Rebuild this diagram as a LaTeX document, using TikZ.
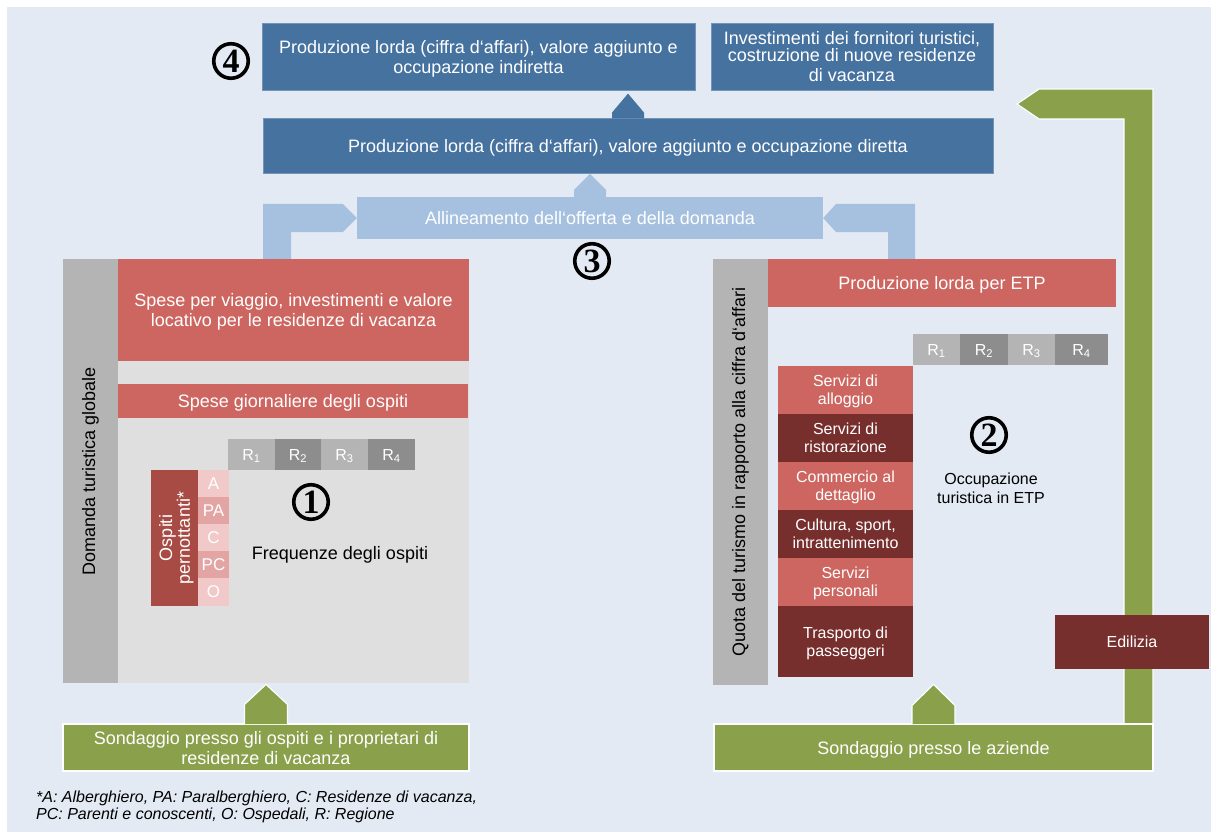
\documentclass[tikz,border=0pt]{standalone}
\usepackage{fontspec}
\setmainfont{Liberation Sans}
\newfontfamily\numfont{Liberation Serif}
\usetikzlibrary{calc}

\definecolor{bgblue}{RGB}{227,234,244}
\definecolor{darkblue}{RGB}{70,114,160}
\definecolor{paleblue}{RGB}{166,193,223}
\definecolor{salmon}{RGB}{205,102,96}
\definecolor{maroon}{RGB}{119,47,46}
\definecolor{brick}{RGB}{168,75,69}
\definecolor{pinklight}{RGB}{242,201,201}
\definecolor{pinkmid}{RGB}{227,165,164}
\definecolor{bargray}{RGB}{180,180,180}
\definecolor{panelgray}{RGB}{223,223,223}
\definecolor{rdark}{RGB}{141,141,141}
\definecolor{olive}{RGB}{138,160,75}

% house-shaped arrow tip standing on an anchor: (half width:shoulder:apex)
\def\house[#1](#2)(#3:#4:#5){\path[#1] ($(#2)+(-#3,0.8)$) -- ($(#2)+(-#3,-#4)$) -- ($(#2)+(0,-#5)$) -- ($(#2)+(#3,-#4)$) -- ($(#2)+(#3,0.8)$);}

\tikzset{
	txt/.style={inner sep=0pt, align=center, text=white, text depth=0pt, font=\fontsize{18}{20}\selectfont},
	bluebox/.style={txt, fill=darkblue, draw=darkblue!75!white, line width=0.8pt},
	palebox/.style={txt, fill=paleblue},
	redbox/.style={txt, fill=salmon},
	sector/.style={txt, minimum width=135, font=\fontsize{16}{18}\selectfont},
	olivebox/.style={txt, fill=olive, draw=white, line width=1.2pt},
	sidebar/.style={inner sep=0pt, fill=bargray, rotate=90, font=\fontsize{18}{20}\selectfont},
	regbox/.style={txt, minimum height=31, font=\fontsize{16}{18}\selectfont},
	lodging/.style={txt, minimum width=31, minimum height=27, font=\fontsize{17}{18}\selectfont},
	circnum/.style={circle, draw=black, line width=3.6pt, minimum size=34.5pt, inner sep=0pt, font=\numfont\bfseries\fontsize{34}{34}\selectfont},
	plain/.style={inner sep=0pt, align=center, text=black, text depth=0pt}
}

\begin{document}
\begin{tikzpicture}[x=1pt, y=-1pt]
	%%%%% START %%%%%
	\useasboundingbox (0,0) rectangle (1211,832);
	\fill[white] (0,0) rectangle (1211,832);
	\fill[bgblue] (7,7) rectangle (1211,832);
	
	% supply and demand
	\node[palebox, minimum width=466, minimum height=42] (align) at (590,218) {Allineamento dell‘offerta e della domanda};
	\fill[paleblue] (263,259) -- (263,204) -- (343,204) -- (align.west) -- (343,232) -- (291,232) -- (291,259) -- cycle;
	\fill[paleblue] (915,259) -- (915,204) -- (836,204) -- (align.east) -- (836,232) -- (888,232) -- (888,259) -- cycle;
	\house[fill=paleblue](align.north)(16:7:23)
	
	\node[bluebox, minimum width=730, minimum height=55] (direct) at (628,145.5) {Produzione lorda (ciffra d‘affari), valore aggiunto e occupazione diretta};
	\house[fill=darkblue](direct.north)(16:5:24)
	
	\node[bluebox, minimum width=433, minimum height=67] (indirect) at (478.5,56.5) {Produzione lorda (ciffra d‘affari), valore aggiunto e\\occupazione indiretta};
	\node[bluebox, minimum width=282, minimum height=67, font=\fontsize{18}{17}\selectfont] (invest) at (852,56.5) {Investimenti dei fornitori turistici,\\costruzione di nuove residenze\\[3pt]di vacanza};
	
	\node[circnum] (four) at (231,61) {4};
	\node[circnum] (three) at (592,261) {3};
	
	% demand side
	\node[sidebar, minimum width=424, minimum height=55] (demand) at (90.5,471) {Domanda turistica globale};
	\node[fill=panelgray, minimum width=351, minimum height=424, inner sep=0pt] (demandpanel) at (293.5,471) {};
	\node[redbox, minimum width=351, minimum height=102] (spend) at (293.5,310) {Spese per viaggio, investimenti e valore\\locativo per le residenze di vacanza};
	\node[redbox, minimum width=350, minimum height=34] (daily) at (293,401) {Spese giornaliere degli ospiti};
	
	\node[regbox, fill=bargray, minimum width=47] (rl1) at (251.5,454.5) {R\textsubscript{1}};
	\node[regbox, fill=rdark, minimum width=46] (rl2) at (298,454.5) {R\textsubscript{2}};
	\node[regbox, fill=bargray, minimum width=47] (rl3) at (344.5,454.5) {R\textsubscript{3}};
	\node[regbox, fill=rdark, minimum width=47] (rl4) at (391.5,454.5) {R\textsubscript{4}};
	
	\node[txt, fill=brick, rotate=90, minimum width=136, minimum height=47, font=\fontsize{18}{15}\selectfont] (guests) at (174.5,538) {Ospiti\\pernottanti*};
	\node[lodging, fill=pinklight] (hotel) at (213.5,483.5) {A};
	\node[lodging, fill=pinkmid] (para) at (213.5,510.5) {PA};
	\node[lodging, fill=pinklight] (holiday) at (213.5,537.5) {C};
	\node[lodging, fill=pinkmid] (friends) at (213.5,564.5) {PC};
	\node[lodging, fill=pinklight, minimum height=28] (hospital) at (213.5,592) {O};
	
	\node[circnum] (one) at (311,502) {1};
	\node[plain, font=\fontsize{18}{20}\selectfont] (nights) at (340,553) {Frequenze degli ospiti};
	
	\node[olivebox, minimum width=406, minimum height=47] (survey) at (266,747.5) {Sondaggio presso gli ospiti e i proprietari di\\residenze di vacanza};
	\house[fill=olive, draw=white, line width=1.2pt](survey.north)(21.5:19:39)
	
	\node[plain, anchor=west, align=left, font=\itshape\fontsize{16}{17}\selectfont] (note) at (36,805.5) {*A: Alberghiero, PA: Paralberghiero, C: Residenze di vacanza,\\PC: Parenti e conoscenti, O: Ospedali, R: Regione};
	
	% supply side
	\node[sidebar, minimum width=426, minimum height=55] (share) at (740.5,472) {Quota del turismo in rapporto alla ciffra d‘affari};
	\node[redbox, minimum width=348, minimum height=48] (etp) at (942,283) {Produzione lorda per ETP};
	
	\node[regbox, fill=bargray, minimum width=47] (rr1) at (936.5,349.5) {R\textsubscript{1}};
	\node[regbox, fill=rdark, minimum width=48] (rr2) at (984,349.5) {R\textsubscript{2}};
	\node[regbox, fill=bargray, minimum width=47] (rr3) at (1031.5,349.5) {R\textsubscript{3}};
	\node[regbox, fill=rdark, minimum width=53] (rr4) at (1081.5,349.5) {R\textsubscript{4}};
	
	\node[sector, fill=salmon, minimum height=48] (lodge) at (845.5,390) {Servizi di\\alloggio};
	\node[sector, fill=maroon, minimum height=48] (food) at (845.5,438) {Servizi di\\ristorazione};
	\node[sector, fill=salmon, minimum height=48] (retail) at (845.5,486) {Commercio al\\dettaglio};
	\node[sector, fill=maroon, minimum height=48] (culture) at (845.5,534) {Cultura, sport,\\intrattenimento};
	\node[sector, fill=salmon, minimum height=48] (personal) at (845.5,582) {Servizi\\personali};
	\node[sector, fill=maroon, minimum height=71] (transport) at (845.5,641.5) {Trasporto di\\passeggeri};
	
	\node[circnum] (two) at (989,435) {2};
	\node[plain, font=\fontsize{16}{19}\selectfont] (jobs) at (991,488) {Occupazione\\turistica in ETP};
	
	\filldraw[fill=olive, draw=white, line width=1.2pt] (1124,724) -- (1124,119) -- (1039,119) -- (1017,104) -- (1039,89) -- (1153,89) -- (1153,724) -- cycle;
	\node[txt, fill=maroon, minimum width=154, minimum height=54, font=\fontsize{16}{18}\selectfont] (building) at (1132,642) {Edilizia};
	
	\node[olivebox, minimum width=439, minimum height=47] (firms) at (933.5,747.5) {Sondaggio presso le aziende};
	\house[fill=olive, draw=white, line width=1.2pt](firms.north)(21.5:18:39)
	
	%%%%% END %%%%%
\end{tikzpicture}
\end{document}
